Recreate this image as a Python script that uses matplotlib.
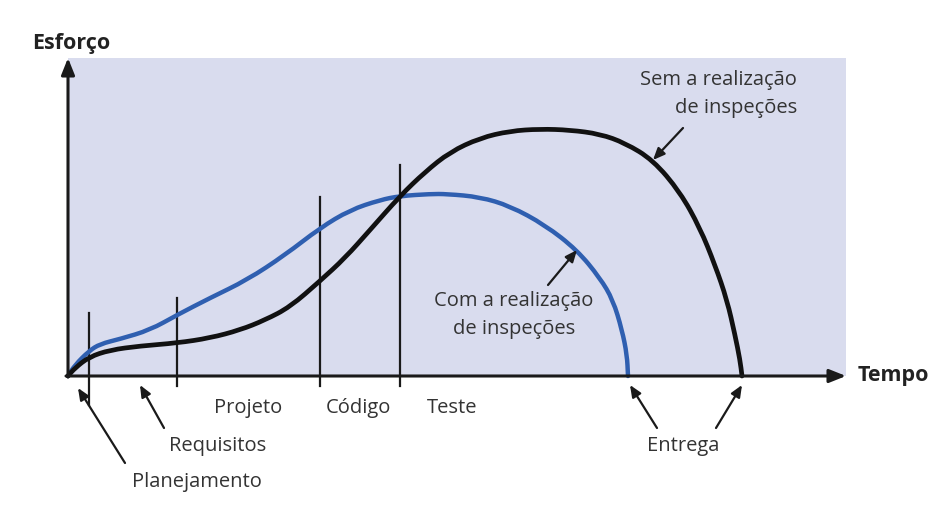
import matplotlib.pyplot as plt
from matplotlib.patches import Rectangle, PathPatch
from matplotlib.path import Path

# Curvas (tempo, esforço)
tempo_sem = [0, 7, 21, 42, 72, 109, 142, 172, 197, 222, 252, 277, 302, 332, 357, 382,
             412, 442, 472, 502, 532, 557, 585, 612, 632, 647, 659, 667, 672, 674]
esforco_sem = [0, 8, 19, 26, 30, 33, 38, 46, 56, 69, 95, 118, 146, 180, 204, 224,
               238, 245, 247, 246, 242, 233, 216, 184, 148, 111, 76, 41, 16, 0]

tempo_com = [0, 7, 21, 32, 52, 82, 109, 142, 179, 217, 252, 282, 312, 332, 362, 379,
             412, 442, 477, 509, 532, 545, 554, 559, 560]
esforco_com = [0, 11, 25, 32, 37, 46, 61, 78, 96, 121, 148, 166, 176, 180, 182, 182,
               179, 170, 151, 126, 98, 76, 46, 21, 0]

# Divisões das fases
fases_x = [21, 109, 252, 332]
fases_topo = [63, 78, 179, 211]
fases_base = [-29, -10, -10, -10]

rotulos = ["Projeto", "Código", "Teste", "Requisitos", "Planejamento", "Entrega"]
rotulos_x = [180, 290, 384, 150, 129, 615]
rotulos_y = [-32, -32, -32, -70, -106, -70]

fundo = "#d9dcee"
azul = "#2f5fb0"
texto = "#333333"
fonte = "Open Sans"


def curva_suave(xs, ys, cor, lw):
    # curva quadrática passando pelos pontos médios
    pts = list(zip(xs, ys))
    verts = [pts[0]]
    codes = [Path.MOVETO]
    m = ((pts[0][0] + pts[1][0]) / 2, (pts[0][1] + pts[1][1]) / 2)
    verts.append(m)
    codes.append(Path.LINETO)
    for i in range(1, len(pts) - 1):
        m = ((pts[i][0] + pts[i + 1][0]) / 2, (pts[i][1] + pts[i + 1][1]) / 2)
        verts += [pts[i], m]
        codes += [Path.CURVE3, Path.CURVE3]
    verts.append(pts[-1])
    codes.append(Path.LINETO)
    return PathPatch(Path(verts, codes), facecolor="none", edgecolor=cor, lw=lw,
                     capstyle="round", joinstyle="round", zorder=4)


fig = plt.figure(figsize=(9.5, 5.32), dpi=100)
ax = fig.add_axes([0, 0, 1, 1])
ax.set_xlim(-68, 882)
ax.set_ylim(-156, 376)
ax.axis("off")

ax.add_patch(Rectangle((0, 0), 778, 318, facecolor=fundo, edgecolor="none", zorder=0))

# eixos com seta
seta_eixo = dict(arrowstyle="-|>,head_length=1.0,head_width=0.4", color="#1a1a1a",
                 lw=2.2, shrinkA=0, shrinkB=0)
ax.annotate("", xy=(778, 0), xytext=(-2, 0), arrowprops=seta_eixo, zorder=5)
ax.annotate("", xy=(0, 318), xytext=(0, -1), arrowprops=seta_eixo, zorder=5)

ax.text(-36, 333, "Esforço", fontsize=15.5, fontweight="bold", color="#222222",
        family=fonte, ha="left", va="center")
ax.text(790, 0, "Tempo", fontsize=15.5, fontweight="bold", color="#222222",
        family=fonte, ha="left", va="center")

for x, y0, y1 in zip(fases_x, fases_base, fases_topo):
    ax.plot([x, x], [y0, y1], color="#1a1a1a", lw=1.6, zorder=3)

ax.add_patch(curva_suave(tempo_com, esforco_com, azul, 3.2))
ax.add_patch(curva_suave(tempo_sem, esforco_sem, "#111111", 3.4))

for t, x, y in zip(rotulos, rotulos_x, rotulos_y):
    ax.text(x, y, t, fontsize=14.5, color=texto, family=fonte, ha="center", va="center")

ax.text(729, 296, "Sem a realização", fontsize=14.5, color=texto, family=fonte,
        ha="right", va="center")
ax.text(729, 268, "de inspeções", fontsize=14.5, color=texto, family=fonte,
        ha="right", va="center")
ax.text(446, 75, "Com a realização", fontsize=14.5, color=texto, family=fonte,
        ha="center", va="center")
ax.text(446, 47, "de inspeções", fontsize=14.5, color=texto, family=fonte,
        ha="center", va="center")

# setas de anotação
seta = dict(arrowstyle="-|>,head_length=0.7,head_width=0.3", color="#1a1a1a",
            lw=1.6, shrinkA=0, shrinkB=0)
setas = [((10, -12), (57, -87)),
         ((72, -9), (96, -52)),
         ((562, -9), (589, -52)),
         ((674, -9), (648, -52)),
         ((509, 126), (480, 91)),
         ((585, 216), (615, 248))]
for ponta, cauda in setas:
    ax.annotate("", xy=ponta, xytext=cauda, arrowprops=seta, zorder=6)

fig.savefig("out.png", dpi=100, facecolor="white")
